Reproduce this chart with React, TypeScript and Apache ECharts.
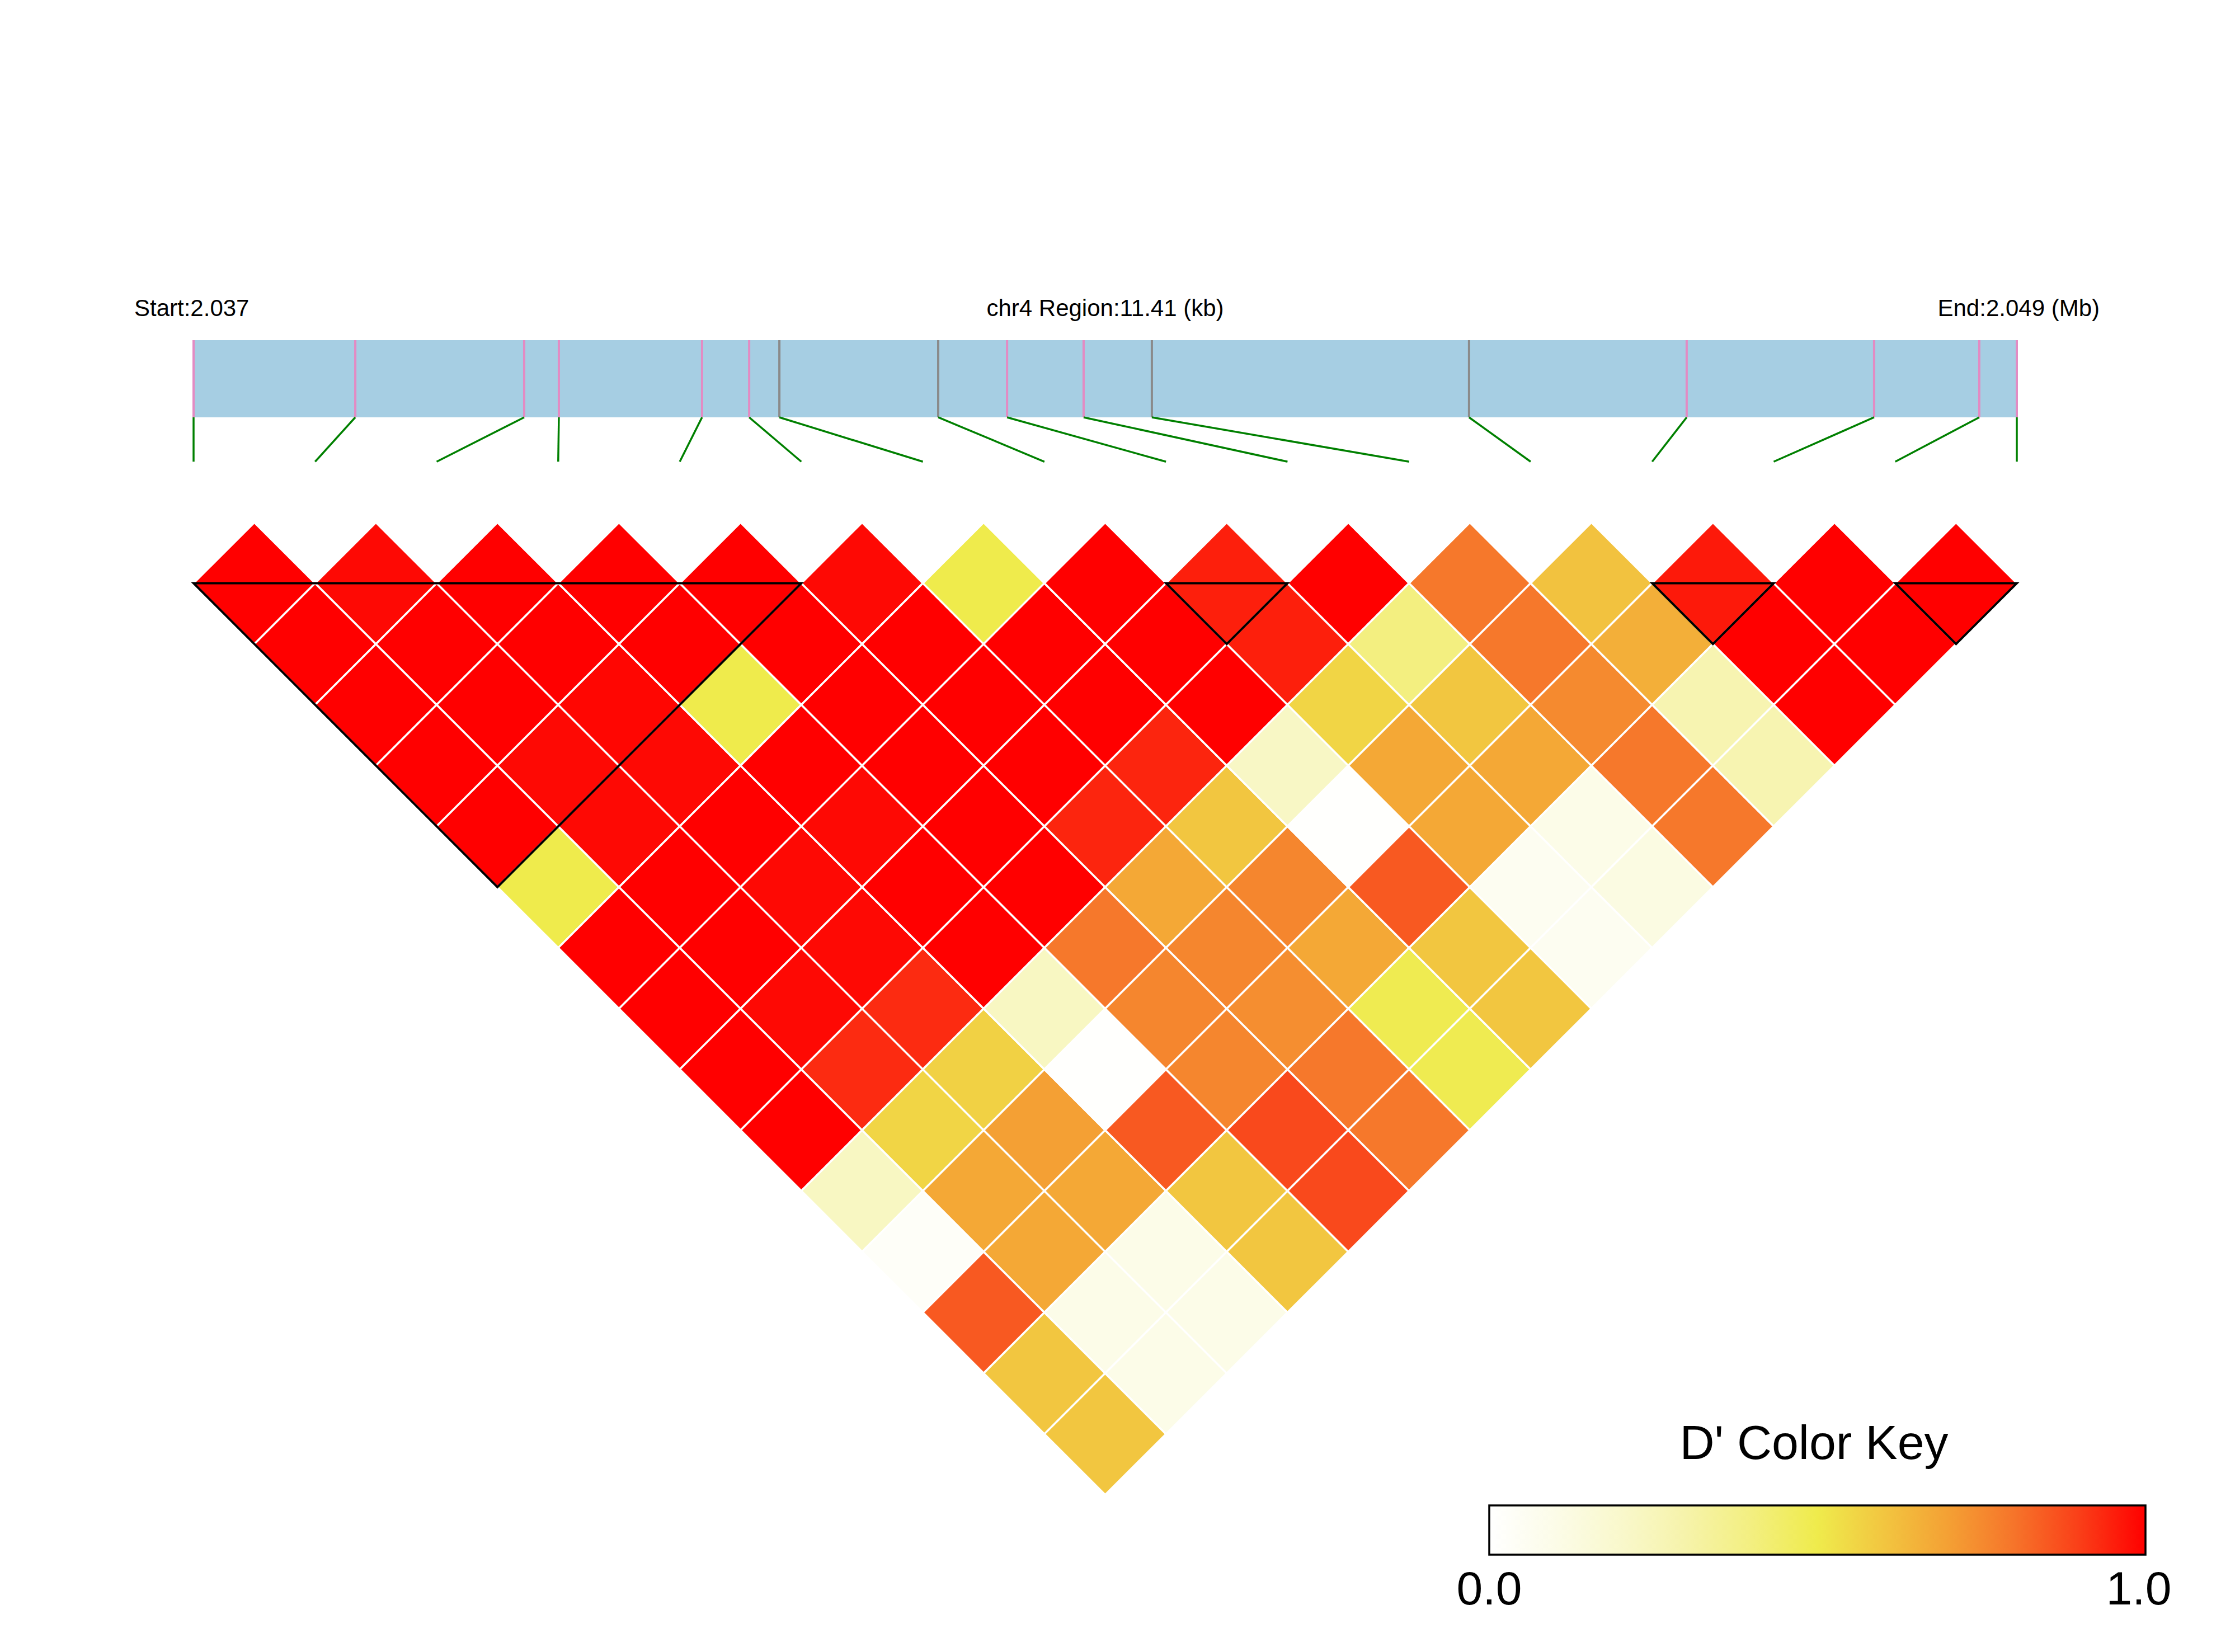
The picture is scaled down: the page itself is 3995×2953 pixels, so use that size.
import React, { useEffect, useRef } from 'react';
import * as echarts from 'echarts';

// ---------------- data ----------------
const CHROM = 'chr4';
const REGION_START = 2037152;
const REGION_END = 2048562;

// SNP genomic positions (bp)
const snpPositions = [
  2037152, 2038164, 2039221, 2039438, 2040334, 2040629, 2040818, 2041812,
  2042243, 2042722, 2043149, 2045134, 2046496, 2047669, 2048327, 2048562,
];
// SNP marker class (0 = pink marker, 1 = grey marker)
const snpClass = [0, 0, 0, 0, 0, 0, 1, 1, 0, 0, 1, 1, 0, 0, 0, 0];

// D' values: row i holds D'(i, j) for j = i+1 .. 16
const dPrimeRows = [
  [1.0, 1.0, 1.0, 1.0, 1.0, 0.5, 1.0, 1.0, 1.0, 1.0, 0.23, 0.03, 0.85, 0.6, 0.6],
  [0.985, 1.0, 1.0, 0.985, 0.985, 1.0, 1.0, 0.985, 0.93, 0.56, 0.68, 0.68, 0.1, 0.1],
  [1.0, 1.0, 0.99, 0.985, 1.0, 0.985, 0.985, 0.93, 0.57, 0.7, 0.68, 0.1, 0.1],
  [1.0, 1.0, 0.5, 1.0, 0.985, 1.0, 1.0, 0.23, 0.01, 0.85, 0.6, 0.6],
  [1.0, 1.0, 1.0, 1.0, 1.0, 1.0, 0.79, 0.76, 0.76, 0.88, 0.88],
  [0.985, 1.0, 1.0, 1.0, 0.94, 0.68, 0.76, 0.74, 0.79, 0.79],
  [0.5, 1.0, 1.0, 0.94, 0.6, 0.76, 0.68, 0.49, 0.49],
  [1.0, 1.0, 1.0, 0.22, 0.01, 0.85, 0.6, 0.6],
  [0.95, 0.95, 0.56, 0.68, 0.68, 0.06, 0.06],
  [1.0, 0.4, 0.6, 0.68, 0.1, 0.12],
  [0.79, 0.79, 0.75, 0.79, 0.79],
  [0.61, 0.66, 0.28, 0.28],
  [0.96, 1.0, 1.0],
  [1.0, 1.0],
  [1.0],
];

// LD blocks (first SNP, last SNP)
const ldBlocks = [
  [1, 6],
  [9, 10],
  [13, 14],
  [15, 16],
];

// D' colour key
const keyMin = 0;
const keyMax = 1;
const keyColors = [
  '#FFFFFF', '#FCFCE8', '#F9F8CC', '#F6F3AA', '#F3EF80', '#EFEB4C',
  '#F2C640', '#F4A034', '#F6742A', '#FA3E18', '#FF0000',
];

// ---------------- layout / style ----------------
const W = 3995;
const H = 2953;
const GRID_LEFT = 346;
const GRID_RIGHT_EDGE = 3605;
const GRID_TOP = 608;
const GRID_BOTTOM_EDGE = 2672;
const Y_MIN = -3;
const Y_MAX = 16;
const BAR_BOTTOM = -1.73;
const LINK_BOTTOM = -1;
const FONT = '"Liberation Sans", Arial, Helvetica, sans-serif';
const markerColors = ['#E38BC3', '#8A8A8A'];

export default function App() {
  const ref = useRef<HTMLDivElement>(null);

  useEffect(() => {
    if (!ref.current) return;
    const chart = echarts.init(ref.current, undefined, { renderer: 'svg' });
    const n = snpPositions.length;

    const cells: number[][] = [];
    dPrimeRows.forEach((row, ii) => {
      row.forEach((v, jj) => {
        const i = ii + 1;
        const j = i + 1 + jj;
        cells.push([i, j, v]);
      });
    });

    const links = snpPositions.map((p, k) => [k + 1, p]);
    const markers = snpPositions.map((p, k) => [p, snpClass[k]]);

    const stops = keyColors.map((c, idx) => ({ offset: idx / (keyColors.length - 1), color: c }));
    const keyX = 2662;
    const keyY = 2691;
    const keyW = 1173;
    const keyH = 88;

    const option: any = {
      animation: false,
      backgroundColor: '#ffffff',
      grid: {
        left: GRID_LEFT,
        width: GRID_RIGHT_EDGE - GRID_LEFT,
        top: GRID_TOP,
        height: GRID_BOTTOM_EDGE - GRID_TOP,
      },
      xAxis: [
        { type: 'value', min: 1, max: n, show: false },
        { type: 'value', min: REGION_START, max: REGION_END, show: false },
      ],
      yAxis: [{ type: 'value', min: Y_MIN, max: Y_MAX, inverse: true, show: false }],
      visualMap: {
        type: 'continuous',
        show: false,
        min: keyMin,
        max: keyMax,
        dimension: 2,
        seriesIndex: 3,
        inRange: { color: keyColors },
      },
      series: [
        {
          type: 'custom',
          name: 'region',
          xAxisIndex: 1,
          yAxisIndex: 0,
          data: [[REGION_START, REGION_END]],
          renderItem: (params: any, api: any) => {
            const a = api.coord([api.value(0), Y_MIN]);
            const b = api.coord([api.value(1), BAR_BOTTOM]);
            return {
              type: 'rect',
              shape: { x: a[0], y: a[1], width: b[0] - a[0], height: b[1] - a[1] },
              style: { fill: '#A6CEE3' },
            };
          },
        },
        {
          type: 'custom',
          name: 'markers',
          xAxisIndex: 1,
          yAxisIndex: 0,
          data: markers,
          renderItem: (params: any, api: any) => {
            const a = api.coord([api.value(0), Y_MIN]);
            const b = api.coord([api.value(0), BAR_BOTTOM]);
            return {
              type: 'line',
              shape: { x1: a[0], y1: a[1], x2: b[0], y2: b[1] },
              style: { stroke: markerColors[api.value(1)], lineWidth: 4 },
            };
          },
        },
        {
          type: 'custom',
          name: 'links',
          xAxisIndex: 0,
          yAxisIndex: 0,
          data: links,
          renderItem: (params: any, api: any) => {
            const k = api.value(0);
            const pos = api.value(1);
            const idx = 1 + ((pos - REGION_START) / (REGION_END - REGION_START)) * (n - 1);
            const a = api.coord([idx, BAR_BOTTOM]);
            const b = api.coord([k, LINK_BOTTOM]);
            return {
              type: 'line',
              shape: { x1: a[0], y1: a[1], x2: b[0], y2: b[1] },
              style: { stroke: '#008000', lineWidth: 3.5 },
            };
          },
        },
        {
          type: 'custom',
          name: 'ld',
          xAxisIndex: 0,
          yAxisIndex: 0,
          data: cells,
          renderItem: (params: any, api: any) => {
            const i = api.value(0);
            const j = api.value(1);
            const cx = (i + j) / 2;
            const d = j - i;
            const pts = [
              [cx - 0.5, d],
              [cx, d - 1],
              [cx + 0.5, d],
              [cx, d + 1],
            ].map((p) => api.coord(p));
            return {
              type: 'polygon',
              shape: { points: pts },
              style: { fill: api.visual('color'), stroke: '#ffffff', lineWidth: 3.5 },
            };
          },
        },
        {
          type: 'custom',
          name: 'blocks',
          xAxisIndex: 0,
          yAxisIndex: 0,
          data: ldBlocks,
          renderItem: (params: any, api: any) => {
            const a = api.value(0);
            const b = api.value(1);
            const pts = [
              [a, 1],
              [b, 1],
              [(a + b) / 2, b - a + 1],
            ].map((p) => api.coord(p));
            return {
              type: 'polygon',
              shape: { points: pts },
              style: { fill: 'none', stroke: '#000000', lineWidth: 4, lineJoin: 'miter' },
            };
          },
        },
      ],
      graphic: [
        {
          type: 'text',
          x: 240,
          y: 550,
          style: {
            text: `Start:${(REGION_START / 1e6).toFixed(3)}`,
            font: `42px ${FONT}`,
            fill: '#000',
            textAlign: 'left',
            textVerticalAlign: 'middle',
          },
        },
        {
          type: 'text',
          x: (GRID_LEFT + GRID_RIGHT_EDGE) / 2,
          y: 550,
          style: {
            text: `${CHROM} Region:${((REGION_END - REGION_START) / 1000).toFixed(2)} (kb)`,
            font: `42px ${FONT}`,
            fill: '#000',
            textAlign: 'center',
            textVerticalAlign: 'middle',
          },
        },
        {
          type: 'text',
          x: 3753,
          y: 550,
          style: {
            text: `End:${(REGION_END / 1e6).toFixed(3)} (Mb)`,
            font: `42px ${FONT}`,
            fill: '#000',
            textAlign: 'right',
            textVerticalAlign: 'middle',
          },
        },
        {
          type: 'text',
          x: keyX + keyW / 2 - 6,
          y: 2578,
          style: {
            text: "D' Color Key",
            font: `86px ${FONT}`,
            fill: '#000',
            textAlign: 'center',
            textVerticalAlign: 'middle',
          },
        },
        {
          type: 'rect',
          shape: { x: keyX, y: keyY, width: keyW, height: keyH },
          style: {
            fill: new echarts.graphic.LinearGradient(0, 0, 1, 0, stops),
            stroke: '#000',
            lineWidth: 3.5,
          },
        },
        {
          type: 'text',
          x: keyX,
          y: 2839,
          style: {
            text: keyMin.toFixed(1),
            font: `84px ${FONT}`,
            fill: '#000',
            textAlign: 'center',
            textVerticalAlign: 'middle',
          },
        },
        {
          type: 'text',
          x: keyX + keyW - 12,
          y: 2839,
          style: {
            text: keyMax.toFixed(1),
            font: `84px ${FONT}`,
            fill: '#000',
            textAlign: 'center',
            textVerticalAlign: 'middle',
          },
        },
      ],
    };

    chart.setOption(option);
    return () => {
      chart.dispose();
    };
  }, []);

  return (
    <div
      ref={ref}
      style={{ position: 'absolute', left: 0, top: 0, width: W, height: H, background: '#fff' }}
    />
  );
}
